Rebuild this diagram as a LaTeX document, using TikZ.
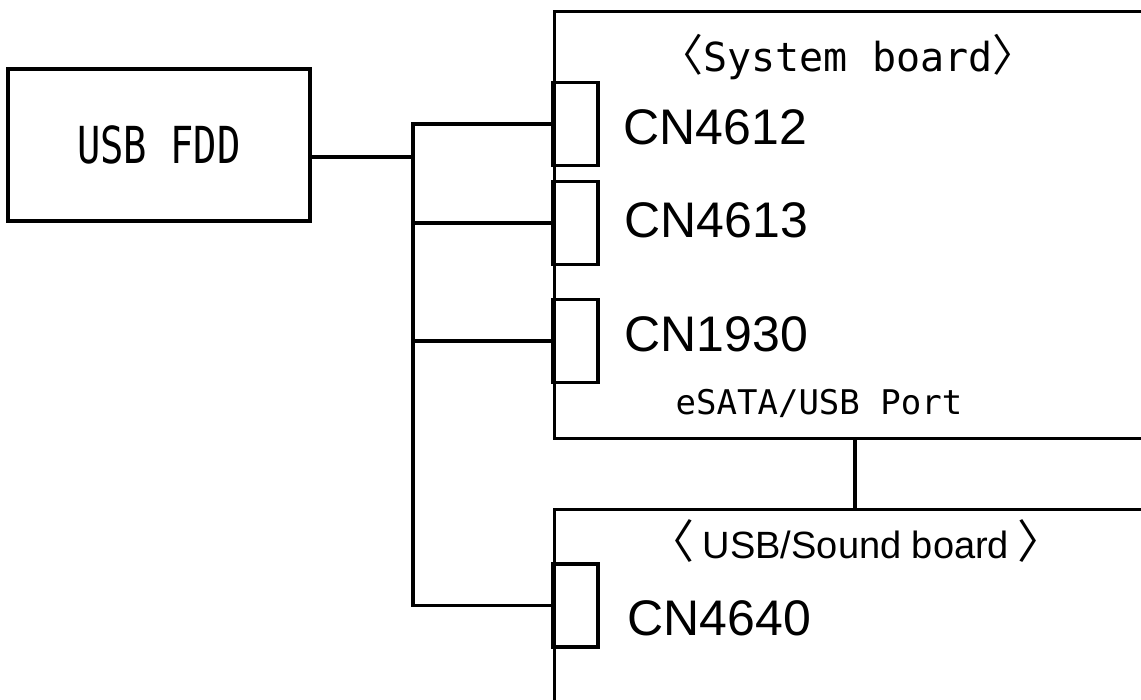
\documentclass[tikz,border=0pt]{standalone}
\usepackage{fontspec}
\setmainfont{Liberation Sans}
\newfontfamily\gothic{DejaVu Sans Mono}
\newfontfamily\gothicnarrow[FakeStretch=0.76]{DejaVu Sans Mono}
\newfontfamily\cjk{Noto Sans CJK JP}
\usetikzlibrary{positioning}

\begin{document}
\begin{tikzpicture}[
    x=1pt, y=-1pt,
    line width=3.4pt
]
\tikzset{
    boxnode/.style = {rectangle, draw=black, inner sep=0pt},
    boardnode/.style = {rectangle, draw=black, anchor=north west, minimum width=640pt, inner sep=0pt},
    portnode/.style = {rectangle, draw=black, minimum width=45pt, minimum height=83pt, inner sep=0pt},
    cnlabel/.style = {anchor=base west, inner sep=0pt, font=\fontsize{50}{60}\selectfont},
    titlelabel/.style = {anchor=base, inner sep=0pt},
    wire/.style = {-, line width=3.4pt}
}
\clip (0,0) rectangle (1141,700);
% boards
\node[boardnode, minimum height=427pt] at (553,10) (sysboard) {};
\node[boardnode, minimum height=260pt] at (553,508) (usbboard) {};
\node[boxnode, minimum width=302pt, minimum height=152pt,
      font=\gothicnarrow\fontsize{51}{60}\selectfont] at (159,145) (fdd) {USB FDD};
% connectors
\node[portnode] at (575.5,124) (cn4612) {};
\node[portnode] at (575.5,223) (cn4613) {};
\node[portnode] at (575.5,341) (cn1930) {};
\node[portnode] at (575.5,605.5) (cn4640) {};
% labels
\node[titlelabel, font=\gothic\fontsize{40}{48}\selectfont] at (848,72) (systitle)
    {{\cjk\fontsize{44}{48}\selectfont〈}System board{\cjk\fontsize{44}{48}\selectfont〉}};
\node[cnlabel] at (622,145) (lab4612) {CN4612};
\node[cnlabel] at (623,238) (lab4613) {CN4613};
\node[cnlabel] at (623,352) (lab1930) {CN1930};
\node[titlelabel, font=\gothic\fontsize{34}{40}\selectfont] at (819,415) (esata) {eSATA/USB Port};
\node[titlelabel, font=\fontsize{38}{46}\selectfont] at (856,558) (usbtitle)
    {{\cjk\fontsize{46}{50}\selectfont〈}\kern8pt USB/Sound board\kern8pt{\cjk\fontsize{46}{50}\selectfont〉}};
\node[cnlabel] at (626,635) (lab4640) {CN4640};
% wiring
\coordinate (trunk) at (413,157);
\coordinate (link) at (855,0);
\draw[wire] (fdd.east |- trunk) -- (trunk);
\draw[wire] (cn4612.west) -| (trunk |- cn4640.west) -- (cn4640.west);
\draw[wire] (cn4613.west) -- (trunk |- cn4613.west);
\draw[wire] (cn1930.west) -- (trunk |- cn1930.west);
\draw[wire] (sysboard.south west -| link) -- (usbboard.north west -| link);
\end{tikzpicture}
\end{document}
